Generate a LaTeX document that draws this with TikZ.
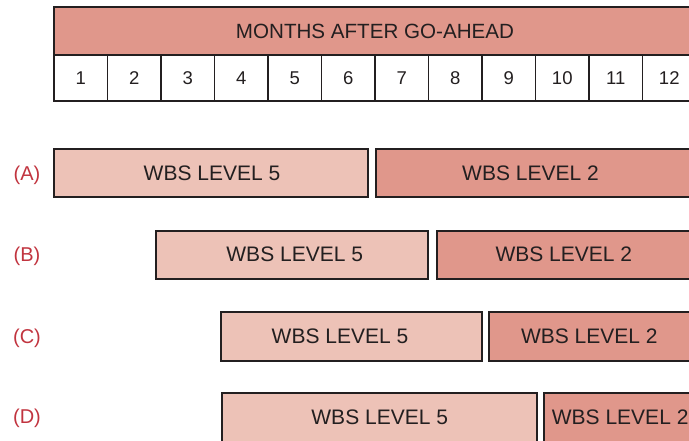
\documentclass[tikz,border=0pt]{standalone}
\usepackage{fontspec}
\setmainfont{Liberation Sans}
\definecolor{darkline}{HTML}{231F20}
\definecolor{salmon}{HTML}{E0978B}
\definecolor{pinklight}{HTML}{EDC2B7}
\definecolor{labred}{HTML}{C1343F}
\begin{document}
\begin{tikzpicture}[x=1pt,y=-1pt,
  cellline/.style={draw=darkline,line width=1.9pt},
  lvfive/.style={cellline,fill=pinklight},
  lvtwo/.style={cellline,fill=salmon},
  boxtext/.style={inner sep=0pt,text=darkline,font=\fontsize{21}{25}\selectfont},
  hdrtext/.style={inner sep=0pt,text=darkline,font=\fontsize{20.6}{24}\selectfont},
  numtext/.style={inner sep=0pt,text=darkline,font=\fontsize{18.5}{22}\selectfont},
  rowlabel/.style={inner sep=0pt,text=labred,font=\fontsize{20}{24}\selectfont}]
\useasboundingbox (0,0) rectangle (689,440);
\clip (0,0) rectangle (689,440);
% header
\draw[cellline,fill=salmon] (54,7) rectangle (700,55);
\node[hdrtext] (hdr) at (375,31) {MONTHS AFTER GO-AHEAD};
\draw[cellline,fill=white] (54,55) rectangle (700,101);
\foreach \k in {1,...,11}{
  \draw[cellline] ({54+53.5*\k},55) -- ({54+53.5*\k},101);
}
\foreach \k in {1,...,12}{
  \node[numtext] (m\k) at ({54+53.5*(\k-0.5)},78.5) {\k};
}
% row A
\node[rowlabel] (la) at (27,175) {(A)};
\draw[lvfive] (54,149.3) rectangle (368.3,197.3);
\node[boxtext] (a5) at (212,173.3) {WBS LEVEL 5};
\draw[lvtwo] (376,149.3) rectangle (700,197.3);
\node[boxtext] (a2) at (530.5,173.3) {WBS LEVEL 2};
% row B
\node[rowlabel] (lb) at (27,256.4) {(B)};
\draw[lvfive] (155.7,230.7) rectangle (428.3,278.7);
\node[boxtext] (b5) at (294.7,254.7) {WBS LEVEL 5};
\draw[lvtwo] (436.7,230.7) rectangle (700,278.7);
\node[boxtext] (b2) at (563.8,254.7) {WBS LEVEL 2};
% row C
\node[rowlabel] (lc) at (27,337.9) {(C)};
\draw[lvfive] (220.7,311.7) rectangle (481.7,360.7);
\node[boxtext] (c5) at (340,336.2) {WBS LEVEL 5};
\draw[lvtwo] (489.3,311.7) rectangle (700,360.7);
\node[boxtext] (c2) at (589.3,336.2) {WBS LEVEL 2};
% row D
\node[rowlabel] (ld) at (27,418.7) {(D)};
\draw[lvfive] (222.3,393.3) rectangle (536.7,441.5);
\node[boxtext] (d5) at (379.7,417) {WBS LEVEL 5};
\draw[lvtwo] (543.7,393.3) rectangle (700,441.5);
\node[boxtext,anchor=west] (d2) at (551.7,417) {WBS LEVEL 2};
\end{tikzpicture}
\end{document}
